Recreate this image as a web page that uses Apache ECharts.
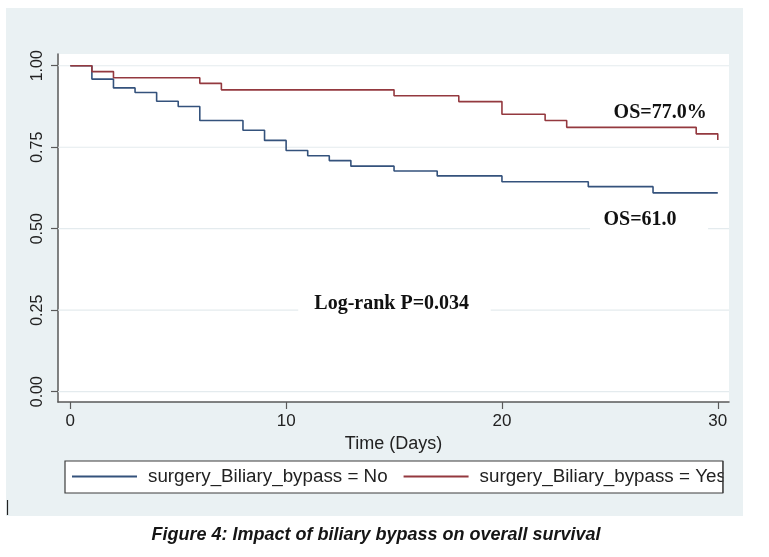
<!DOCTYPE html>
<html><head><meta charset="utf-8">
<script src="https://cdn.jsdelivr.net/npm/echarts@6/dist/echarts.min.js"></script>
<style>html,body{margin:0;padding:0;background:#fff}#c{width:769px;height:557px}</style>
</head><body><div id="c"></div>
<script>
// ---- data ----
const daysNo = [0, 1, 2, 3, 4, 5, 6, 8, 9, 10, 11, 12, 13, 15, 17, 20, 24, 27, 30];
const survNo = [1, 0.959, 0.932, 0.918, 0.891, 0.875, 0.832, 0.802, 0.771, 0.740, 0.724, 0.709, 0.692, 0.677, 0.662, 0.644, 0.629, 0.610, 0.610];
const daysYes = [0, 1, 2, 6, 7, 15, 18, 20, 22, 23, 29, 30];
const survYes = [1, 0.982, 0.963, 0.946, 0.926, 0.908, 0.890, 0.851, 0.832, 0.811, 0.791, 0.772];
const xTicks = [0, 10, 20, 30];
const yTicks = [0, 0.25, 0.5, 0.75, 1];
const seriesNames = ['surgery_Biliary_bypass = No', 'surgery_Biliary_bypass = Yes'];
const xTitle = 'Time (Days)';
const caption = 'Figure 4: Impact of biliary bypass on overall survival';
const noteTexts = ['OS=77.0%', 'OS=61.0', 'Log-rank P=0.034'];
const noteX = [27.33, 26.4, 14.89];
const noteY = [0.857, 0.527, 0.271];

// ---- layout ----
const X_MIN = -0.57, X_MAX = 30.52, Y_MIN = -0.0316, Y_MAX = 1.036;
const BLUE = '#34527c', RED = '#94393f', GRID = '#e4ebee', AXIS = '#595959', BG = '#eaf1f3';

const zip = (a, b) => a.map((v, i) => [v, b[i]]);

const gridSeries = yTicks.map(t => ({
  type: 'line', silent: true, z: 1, symbol: 'none', animation: false,
  data: [[X_MIN, t], [X_MAX, t]],
  lineStyle: { color: GRID, width: 1.2 }, tooltip: { show: false }
}));

const option = {
  backgroundColor: '#ffffff',
  animation: false,
  grid: { left: 58, top: 54, right: 40, bottom: 155, show: true, backgroundColor: '#ffffff', borderWidth: 0, containLabel: false },
  legend: {
    data: seriesNames, left: 72, top: 467, itemWidth: 65, itemHeight: 2, itemGap: 16, padding: 0, z: 20,
    icon: 'rect',
    textStyle: { fontFamily: 'Liberation Sans', fontSize: 18.8, color: '#222', padding: [0, 0, 0, 6] }
  },
  xAxis: {
    type: 'value', min: X_MIN, max: X_MAX,
    name: xTitle, nameLocation: 'middle', nameGap: 27,
    nameTextStyle: { fontFamily: 'Liberation Sans', fontSize: 18, color: '#222' },
    axisLine: { show: true, onZero: false, lineStyle: { color: AXIS, width: 1.5 } },
    axisTick: { show: true, customValues: xTicks, length: 7, lineStyle: { color: AXIS, width: 1.2 } },
    axisLabel: { customValues: xTicks, margin: 11, fontFamily: 'Liberation Sans', fontSize: 17, color: '#222' },
    splitLine: { show: false }
  },
  yAxis: {
    type: 'value', min: Y_MIN, max: Y_MAX,
    axisLine: { show: true, onZero: false, lineStyle: { color: AXIS, width: 1.5 } },
    axisTick: { show: true, customValues: yTicks, length: 7, lineStyle: { color: AXIS, width: 1.2 } },
    axisLabel: { customValues: yTicks, rotate: 90, margin: 12, fontFamily: 'Liberation Sans', fontSize: 16, color: '#222',
      formatter: v => Number(v).toFixed(2) },
    splitLine: { show: false }
  },
  series: gridSeries.concat([
    { name: seriesNames[0], type: 'line', step: 'end', symbol: 'none', z: 5, data: zip(daysNo, survNo),
      lineStyle: { color: BLUE, width: 1.6 }, itemStyle: { color: BLUE } },
    { name: seriesNames[1], type: 'line', step: 'end', symbol: 'none', z: 5, data: zip(daysYes, survYes),
      lineStyle: { color: RED, width: 1.6 }, itemStyle: { color: RED } }
  ])
};

const chart = echarts.init(document.getElementById('c'), null, { renderer: 'canvas' });
chart.setOption(option);

const px = (x, y) => chart.convertToPixel({ gridIndex: 0 }, [x, y]);
const serif = 'bold 20px "Liberation Serif", "Times New Roman", serif';
const els = [
  { type: 'rect', z: -10, silent: true, shape: { x: 6, y: 8, width: 737, height: 508 }, style: { fill: BG } },
  { type: 'rect', z: 2, silent: true, shape: { x: 65, y: 461, width: 658, height: 32 }, style: { fill: '#ffffff', stroke: '#3c3c3c', lineWidth: 1.2 } },
  // clip legend text at the right edge of the box, as in the original
  { type: 'rect', z: 30, silent: true, shape: { x: 723.6, y: 459, width: 19.4, height: 36 }, style: { fill: BG } },
  { type: 'line', z: 31, silent: true, shape: { x1: 723, y1: 461, x2: 723, y2: 493 }, style: { stroke: '#3c3c3c', lineWidth: 1.2 } },
  { type: 'line', z: 2, silent: true, shape: { x1: 7.5, y1: 500, x2: 7.5, y2: 515 }, style: { stroke: '#222', lineWidth: 1.2 } },
  { type: 'text', z: 2, silent: true, x: 376, y: 535,
    style: { text: caption, font: 'italic bold 18px "Liberation Sans", Arial, sans-serif', fill: '#151515', align: 'center', verticalAlign: 'middle' } }
];
// white boxes behind two of the notes (cover the grid lines)
const boxes = [null, [24.08, 29.55, 0.573, 0.471], [10.56, 19.48, 0.306, 0.232]];
noteTexts.forEach((t, i) => {
  if (boxes[i]) {
    const p1 = px(boxes[i][0], boxes[i][2]);
    const p2 = px(boxes[i][1], boxes[i][3]);
    els.push({ type: 'rect', z: 3, silent: true, shape: { x: p1[0], y: p1[1], width: p2[0] - p1[0], height: p2[1] - p1[1] }, style: { fill: '#ffffff' } });
  }
  const p = px(noteX[i], noteY[i]);
  els.push({ type: 'text', z: 4, silent: true, x: p[0], y: p[1],
    style: { text: t, font: serif, fill: '#111', align: 'center', verticalAlign: 'middle' } });
});
chart.setOption({ graphic: { elements: els } });
</script>
</body></html>
